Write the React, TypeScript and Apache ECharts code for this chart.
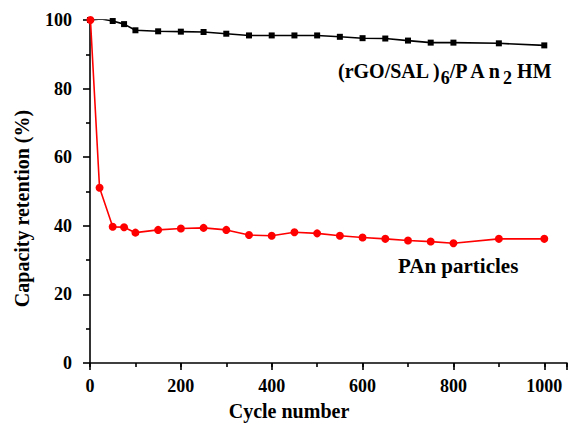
import React, { useEffect, useRef } from 'react';
import * as echarts from 'echarts';

// (rGO/SAL)6/PAn2 HM
const hmCycles = [0, 25, 50, 75, 100, 150, 200, 250, 300, 350, 400, 450, 500, 550, 600, 650, 700, 750, 800, 900, 1000];
const hmRetention = [100, 100.3, 99.7, 98.8, 97.0, 96.7, 96.6, 96.5, 96.0, 95.5, 95.5, 95.5, 95.5, 95.1, 94.7, 94.6, 94.0, 93.4, 93.4, 93.2, 92.6];

// PAn particles
const panCycles = [1, 21, 50, 75, 100, 150, 200, 250, 300, 350, 400, 450, 500, 550, 600, 650, 700, 750, 800, 900, 1000];
const panRetention = [100, 51.1, 39.7, 39.6, 38.0, 38.8, 39.2, 39.4, 38.8, 37.3, 37.1, 38.1, 37.8, 37.1, 36.6, 36.2, 35.7, 35.4, 34.9, 36.2, 36.2];

const xTickLabels = [0, 200, 400, 600, 800, 1000];
const yTickLabels = [0, 20, 40, 60, 80, 100];

const FONT = "'Liberation Serif', 'Times New Roman', serif";

export default function App() {
  const ref = useRef<HTMLDivElement>(null);
  useEffect(() => {
    if (!ref.current) return;
    const chart = echarts.init(ref.current, null, { renderer: 'svg' });
    const axisLine = { show: true, lineStyle: { color: '#000', width: 1.6 } };
    chart.setOption({
      animation: false,
      backgroundColor: '#fff',
      grid: { left: 90, top: 20, width: 481, height: 343, containLabel: false },
      xAxis: [
        {
          type: 'value',
          position: 'bottom',
          min: 0,
          max: 1050,
          interval: 200,
          axisLine,
          axisTick: { show: true, inside: false, length: 7, lineStyle: { color: '#000', width: 1.6 } },
          splitLine: { show: false },
          axisLabel: {
            margin: 14,
            color: '#000',
            fontFamily: FONT,
            fontWeight: 'bold',
            fontSize: 18,
            formatter: (v: number) => (xTickLabels.includes(v) ? String(v) : ''),
          },
          name: 'Cycle number',
          nameLocation: 'middle',
          nameGap: 38,
          nameTextStyle: {
            color: '#000',
            fontFamily: FONT,
            fontWeight: 'bold',
            fontSize: 20,
            padding: [0, 79, 0, 0],
          },
        },
        {
          type: 'value',
          position: 'bottom',
          min: 0,
          max: 1050,
          interval: 100,
          axisLine: { show: false },
          axisTick: { show: true, inside: false, length: 4, lineStyle: { color: '#000', width: 1.6 } },
          axisLabel: { show: false },
          splitLine: { show: false },
        },
      ],
      yAxis: {
        type: 'value',
        min: 0,
        max: 100,
        interval: 20,
        axisLine,
        axisTick: { show: true, inside: false, length: 7, lineStyle: { color: '#000', width: 1.6 } },
        minorTick: { show: true, splitNumber: 2, length: 4, lineStyle: { color: '#000', width: 1.6 } },
        splitLine: { show: false },
        minorSplitLine: { show: false },
        axisLabel: {
          margin: 18,
          color: '#000',
          fontFamily: FONT,
          fontWeight: 'bold',
          fontSize: 18,
          formatter: (v: number) => (yTickLabels.includes(v) ? String(v) : ''),
        },
        name: 'Capacity retention (%)',
        nameLocation: 'middle',
        nameGap: 58,
        nameRotate: 90,
        nameTextStyle: {
          color: '#000',
          fontFamily: FONT,
          fontWeight: 'bold',
          fontSize: 20,
          padding: [0, 34, 0, 0],
        },
      },
      series: [
        {
          type: 'line',
          name: '(rGO/SAL)6/PAn2 HM',
          data: hmCycles.map((c, i) => [c, hmRetention[i]]),
          symbol: 'rect',
          symbolSize: 6,
          lineStyle: { color: '#000', width: 1.6 },
          itemStyle: { color: '#000' },
          z: 3,
        },
        {
          type: 'line',
          name: 'PAn particles',
          data: panCycles.map((c, i) => [c, panRetention[i]]),
          symbol: 'circle',
          symbolSize: 8,
          lineStyle: { color: '#ff0000', width: 1.6 },
          itemStyle: { color: '#ff0000' },
          z: 4,
        },
      ],
      graphic: [
        {
          type: 'text',
          x: 338,
          y: 61,
          style: {
            text: '{m|(rGO/SAL )}{s|6}{m|/P A n}{s|2}{m| HM}',
            fill: '#000',
            font: `bold 20px ${FONT}`,
            rich: {
              m: { fontFamily: FONT, fontWeight: 'bold', fontSize: 20, fill: '#000', padding: [0, 0, 6, 0], verticalAlign: 'bottom' },
              s: { fontFamily: FONT, fontWeight: 'bold', fontSize: 18, fill: '#000', verticalAlign: 'bottom' },
            },
          },
        },
        {
          type: 'text',
          x: 398,
          y: 255,
          style: {
            text: 'PAn particles',
            fill: '#000',
            font: `bold 21px ${FONT}`,
          },
        },
      ],
    });
    return () => chart.dispose();
  }, []);
  return <div ref={ref} style={{ position: 'absolute', left: 0, top: 0, width: 570, height: 431 }} />;
}
